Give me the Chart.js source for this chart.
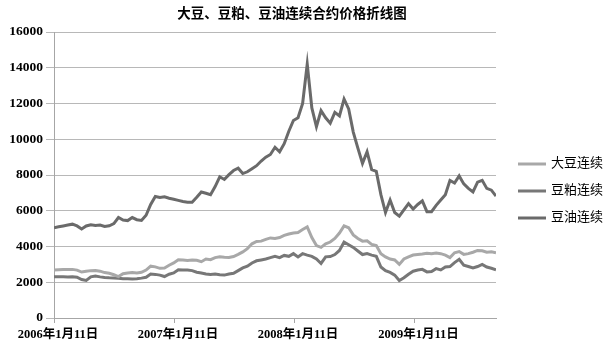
<!DOCTYPE html>
<html>
<head>
<meta charset="utf-8">
<script src="https://cdn.jsdelivr.net/npm/chart.js@4/dist/chart.umd.min.js"></script>
<style>
  html, body { margin: 0; background: #fff; }
  #wrap { width: 608px; height: 353px; position: relative; }
</style>
</head>
<body>
<div id="wrap"><canvas id="c" width="608" height="353"></canvas></div>
<script>
const TITLE = "大豆、豆粕、豆油连续合约价格折线图";
const FONT = '"Liberation Serif", "Times New Roman", "Noto Sans CJK SC", serif';

// sampled every 14 calendar days from 2006-01-11
const STEP_DAYS = 14;
const tickDays = [0, 365, 730, 1096];
const tickLabels = ["2006年1月11日", "2007年1月11日", "2008年1月11日", "2009年1月11日"];
const seriesNames = ["大豆连续", "豆粕连续", "豆油连续"];

const soybean = [
  2690, 2700, 2710, 2720, 2720, 2680, 2570, 2620, 2650, 2660,
  2620, 2540, 2500, 2420, 2320, 2480, 2520, 2540, 2520, 2560,
  2680, 2900, 2860, 2780, 2800, 2950, 3080, 3260, 3250, 3220,
  3240, 3230, 3150, 3300, 3260, 3380, 3430, 3400, 3380, 3440,
  3560, 3700, 3880, 4150, 4280, 4300, 4400, 4480, 4450, 4500,
  4620, 4700, 4760, 4780, 4950, 5100, 4500, 4050, 3950, 4150,
  4250, 4450, 4750, 5150, 5050, 4650, 4450, 4300, 4320, 4120,
  4050, 3600, 3420, 3300, 3250, 3000, 3300, 3420, 3520, 3550,
  3580, 3620, 3600, 3630, 3600, 3520, 3380, 3650, 3720, 3560,
  3600, 3680, 3780, 3760, 3680, 3700, 3650
];

const meal = [
  2310, 2310, 2310, 2300, 2310, 2280, 2150, 2100, 2300, 2350,
  2300, 2270, 2250, 2240, 2220, 2200, 2190, 2180, 2200, 2230,
  2280, 2460, 2440, 2400, 2320, 2450, 2520, 2700, 2680, 2690,
  2650, 2560, 2520, 2460, 2440, 2460, 2420, 2400, 2460, 2500,
  2650, 2800, 2900, 3080, 3200, 3250, 3300, 3380, 3450, 3380,
  3500, 3450, 3600, 3420, 3600, 3520, 3450, 3300, 3050, 3420,
  3440, 3550, 3780, 4250, 4100, 3950, 3750, 3550, 3600, 3520,
  3450, 2850, 2650, 2550, 2400, 2100, 2250, 2450, 2620, 2680,
  2720, 2580, 2600, 2760, 2690, 2850, 2880, 3100, 3280, 2950,
  2880, 2800, 2880, 3000, 2850, 2780, 2700
];

const oil = [
  5050, 5100, 5150, 5200, 5250, 5150, 4980, 5150, 5220, 5180,
  5200, 5120, 5160, 5280, 5620, 5480, 5450, 5620, 5500, 5460,
  5750, 6350, 6800, 6740, 6780, 6700, 6640, 6580, 6520, 6480,
  6470, 6750, 7050, 6980, 6900, 7350, 7900, 7750, 8020, 8250,
  8380, 8080, 8180, 8350, 8520, 8780, 9000, 9150, 9550, 9300,
  9750, 10450, 11050, 11200, 12000, 14200, 11750, 10700, 11600, 11200,
  10900, 11500, 11300, 12250, 11700, 10400, 9500, 8650, 9300, 8300,
  8200, 6900, 5900, 6600, 5900, 5700, 6050, 6400, 6100, 6350,
  6550, 5950, 5950, 6300, 6600, 6900, 7700, 7550, 7950, 7500,
  7250, 7050, 7600, 7700, 7250, 7150, 6820
];

const colors = ["#a8a8a8", "#777777", "#6a6a6a"];

function toPoints(values) {
  return values.map((v, i) => ({ x: i * STEP_DAYS, y: v }));
}

const titleLegend = {
  id: "titleLegend",
  afterDraw(chart) {
    const ctx = chart.ctx;
    const area = chart.chartArea;
    ctx.save();
    ctx.fillStyle = "#000";
    ctx.font = "bold 13.5px " + FONT;
    ctx.textAlign = "center";
    ctx.textBaseline = "middle";
    ctx.fillText(TITLE, 292, 15);

    ctx.font = "13px " + FONT;
    ctx.textAlign = "left";
    const lx = area.right + 22;
    chart.data.datasets.forEach((ds, i) => {
      const y = 164 + i * 27;
      ctx.strokeStyle = ds.borderColor;
      ctx.lineWidth = 3;
      ctx.beginPath();
      ctx.moveTo(lx, y);
      ctx.lineTo(lx + 28, y);
      ctx.stroke();
      ctx.fillStyle = "#000";
      ctx.fillText(ds.label, lx + 33, y);
    });
    ctx.restore();
  }
};

const datasets = [soybean, meal, oil].map((vals, i) => ({
  label: seriesNames[i],
  data: toPoints(vals),
  borderColor: colors[i],
  backgroundColor: colors[i],
  borderWidth: 3,
  pointRadius: 0,
  tension: 0
}));

new Chart(document.getElementById("c"), {
  type: "line",
  data: { datasets },
  options: {
    responsive: false,
    animation: false,
    layout: { padding: { top: 32, right: 112, bottom: 5, left: 0 } },
    plugins: {
      legend: { display: false },
      title: { display: false },
      tooltip: { enabled: false }
    },
    scales: {
      x: {
        type: "linear",
        min: 0,
        max: (oil.length - 1) * STEP_DAYS,
        afterBuildTicks: (s) => { s.ticks = tickDays.map(v => ({ value: v })); },
        afterFit: (s) => { s.height = 30; },
        grid: { drawOnChartArea: false, drawTicks: true, tickLength: 5, color: "#a6a6a6" },
        border: { color: "#a6a6a6" },
        ticks: {
          color: "#000",
          font: { family: FONT, size: 12.5, weight: "bold" },
          maxRotation: 0,
          autoSkip: false,
          labelOffset: 4,
          padding: 4,
          callback: (v) => tickLabels[tickDays.indexOf(v)]
        }
      },
      y: {
        min: 0,
        max: 16000,
        afterFit: (s) => { s.width = 54; },
        grid: { color: "#b8b8b8", tickLength: 8 },
        border: { color: "#a6a6a6" },
        ticks: {
          stepSize: 2000,
          color: "#000",
          font: { family: FONT, size: 13.5, weight: "bold" },
          padding: 3,
          callback: (v) => String(v)
        }
      }
    }
  },
  plugins: [titleLegend]
});
</script>
</body>
</html>
